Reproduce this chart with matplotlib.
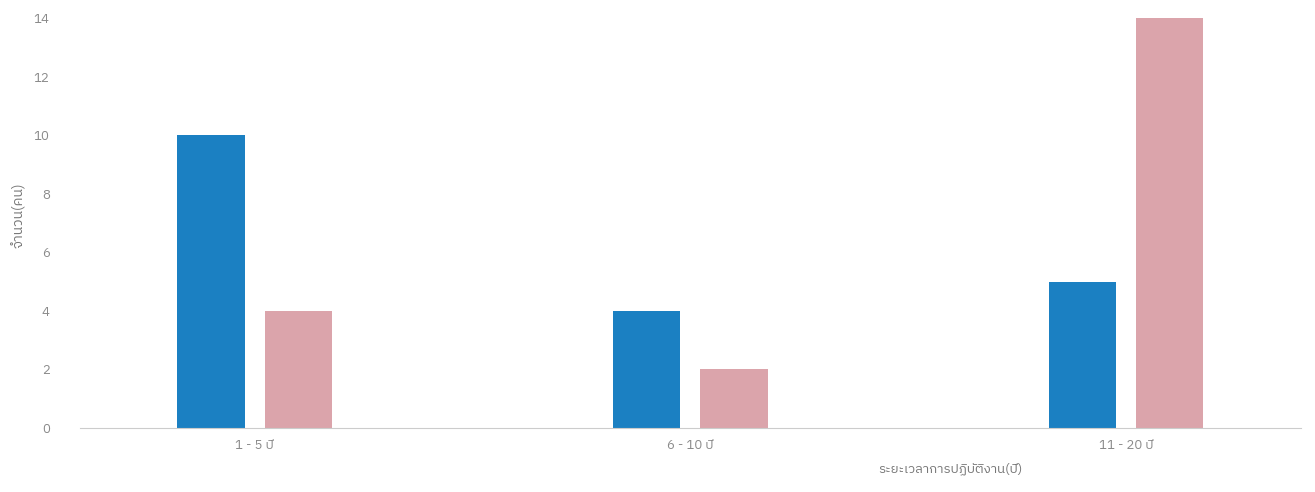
import numpy as np
import matplotlib
matplotlib.use("Agg")
import matplotlib.pyplot as plt
from matplotlib import font_manager

categories = ["1 - 5 ปี", "6 - 10 ปี", "11 - 20 ปี"]
blue_values = [10, 4, 5]
pink_values = [4, 2, 14]
y_ticks = [0, 2, 4, 6, 8, 10, 12, 14]

# pick up whatever Thai-capable family is installed
thai = sorted(set(f.name for f in font_manager.fontManager.ttflist if "Thai" in f.name))
plt.rcParams['font.family'] = thai + ['DejaVu Sans']

fig = plt.figure(figsize=(13.15, 4.92), dpi=100)
ax = fig.add_axes([0.061, 0.130, 0.928, 0.833])

x = np.arange(len(categories))
w = 0.154
ax.bar(x - 0.1, blue_values, width=w, color="#1b80c2")
ax.bar(x + 0.1, pink_values, width=w, color="#dba4ab")

ax.set_xlim(-0.4, 2.4)
ax.set_ylim(0, 14)
ax.set_yticks(y_ticks)
ax.set_xticks(x)
ax.set_xticklabels(categories)
ax.tick_params(axis="both", length=0, colors="#8a8a8a", labelsize=9.5)
ax.tick_params(axis="y", pad=22)
ax.tick_params(axis="x", pad=8)
for s in ["top", "right", "left"]:
    ax.spines[s].set_visible(False)
ax.spines["bottom"].set_color("#cccccc")

ax.set_ylabel("จำนวน(คน)", color="#777777", fontsize=10)
ax.yaxis.set_label_coords(-0.044, 0.52)
ax.set_xlabel("ระยะเวลาการปฏิบัติงาน(ปี)", color="#777777", fontsize=9.5)
ax.xaxis.set_label_coords(0.713, -0.085)

fig.savefig("out.png", dpi=100)
